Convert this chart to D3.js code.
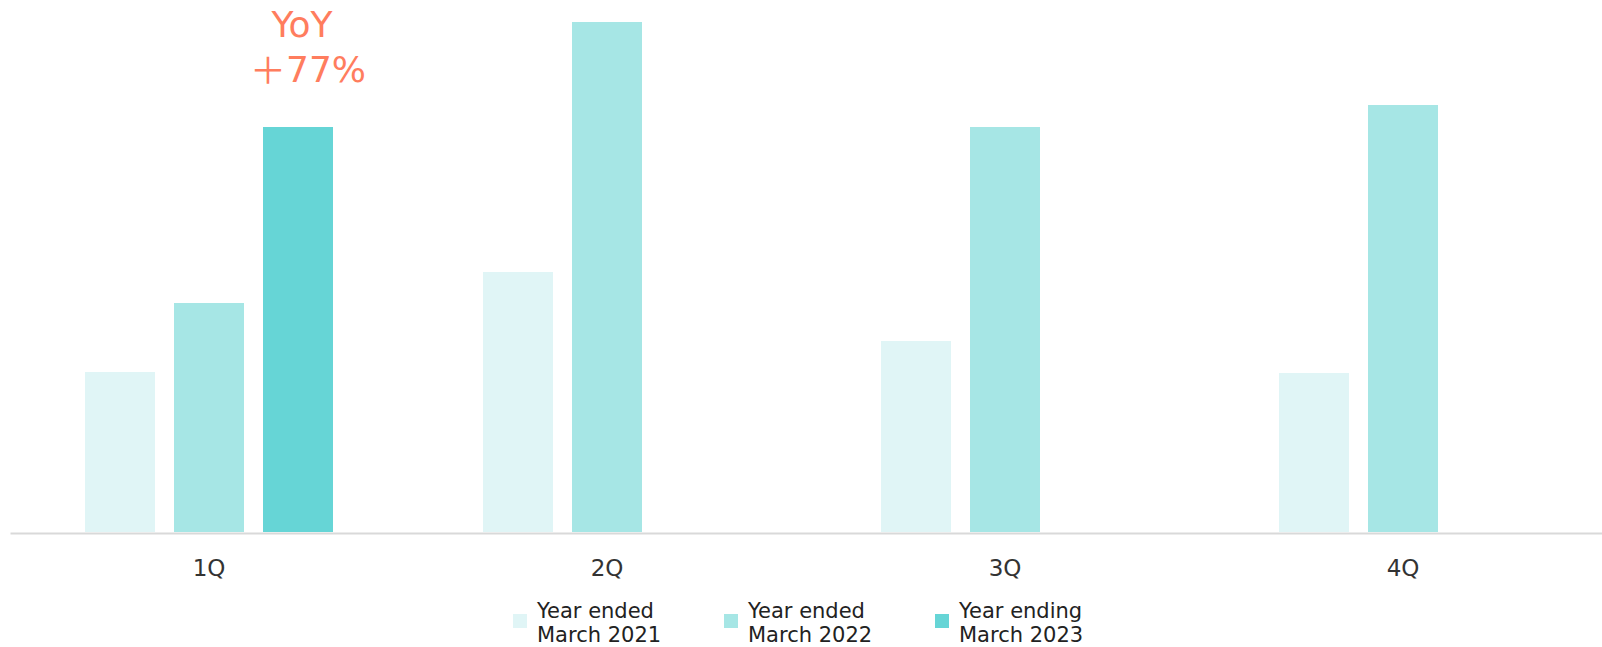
<!DOCTYPE html>
<html>
<head>
<meta charset="utf-8">
<script src="https://cdn.jsdelivr.net/npm/d3@7"></script>
<style>
  body { margin: 0; background: #fff; }
  svg { display: block; font-family: "DejaVu Sans", Verdana, sans-serif; }
</style>
</head>
<body>
<div id="chart"></div>
<script>
// data (index units, arbitrary scale)
const quarters = ['1Q', '2Q', '3Q', '4Q'];
const series = ['fy2021', 'fy2022', 'fy2023'];
const seriesLabels = [['Year ended', 'March 2021'], ['Year ended', 'March 2022'], ['Year ending', 'March 2023']];
const fy2021 = [160, 260, 191, 159];
const fy2022 = [229, 510, 405, 427];
const fy2023 = [405, null, null, null];
const yoyText = ['YoY', '＋', '77%'];

const colors = ['#e0f5f6', '#a6e6e5', '#66d5d6'];

const width = 1602;
const height = 647;
const margin = { left: 10, right: 0, top: 0 };
const baseline = 532;

const svg = d3.select('#chart')
  .append('svg')
  .attr('width', width)
  .attr('height', height);

const x0 = d3.scaleBand()
  .domain(quarters)
  .range([margin.left, width - margin.right])
  .padding(0);

const step = x0.bandwidth();
const groupW = 248;
const x1 = d3.scaleBand()
  .domain(series)
  .range([(step - groupW) / 2, (step + groupW) / 2])
  .paddingInner(19 / 89)
  .paddingOuter(0);

const y = d3.scaleLinear()
  .domain([0, 532])
  .range([baseline, 0]);

const rows = quarters.map((q, i) => ({
  q,
  vals: [fy2021[i], fy2022[i], fy2023[i]]
}));

const groups = svg.selectAll('g.grp')
  .data(rows)
  .join('g')
  .attr('class', 'grp')
  .attr('transform', d => `translate(${x0(d.q)},0)`);

groups.selectAll('rect')
  .data(d => d.vals.map((v, i) => ({ key: series[i], v, i })).filter(d => d.v != null))
  .join('rect')
  .attr('x', d => x1(d.key))
  .attr('width', x1.bandwidth())
  .attr('y', d => y(d.v))
  .attr('height', d => y(0) - y(d.v))
  .attr('fill', d => colors[d.i]);

// baseline axis
const xAxis = d3.axisBottom(x0).tickSize(0).tickPadding(27);
const ax = svg.append('g')
  .attr('transform', `translate(0,${baseline + 1})`)
  .call(xAxis);
ax.select('.domain').attr('stroke', '#d9d9d9').attr('stroke-width', 2);
ax.selectAll('text')
  .style('font-family', '"DejaVu Sans", Verdana, sans-serif')
  .style('font-size', '23px')
  .attr('fill', '#333');

// YoY annotation above the 1Q 2023 bar
const annX = x0('1Q') + x1('fy2023') + x1.bandwidth() / 2 + 4;
svg.append('text')
  .attr('x', annX)
  .attr('y', 37)
  .attr('text-anchor', 'middle')
  .attr('fill', '#ff7d5e')
  .style('font-size', '36px')
  .text(yoyText[0]);
const pct = svg.append('text')
  .attr('x', annX + 6)
  .attr('y', 82)
  .attr('text-anchor', 'middle')
  .attr('fill', '#ff7d5e')
  .style('font-size', '36px');
pct.append('tspan')
  .style('font-size', '36px')
  .style('font-family', '"Noto Sans CJK JP", sans-serif')
  .attr('dy', 2)
  .text(yoyText[1]);
pct.append('tspan')
  .attr('dy', -2)
  .text(yoyText[2]);

// legend
const legend = svg.append('g')
  .attr('transform', 'translate(513,0)');
const item = legend.selectAll('g')
  .data(seriesLabels)
  .join('g')
  .attr('transform', (d, i) => `translate(${i * 211},0)`);
item.append('rect')
  .attr('x', 0)
  .attr('y', 614)
  .attr('width', 14)
  .attr('height', 14)
  .attr('fill', (d, i) => colors[i]);
item.append('text')
  .attr('x', 24)
  .attr('y', 618)
  .attr('fill', '#222')
  .style('font-size', '21px')
  .selectAll('tspan')
  .data(d => d)
  .join('tspan')
  .attr('x', 24)
  .attr('dy', (d, i) => i === 0 ? 0 : 24)
  .text(d => d);
</script>
</body>
</html>
